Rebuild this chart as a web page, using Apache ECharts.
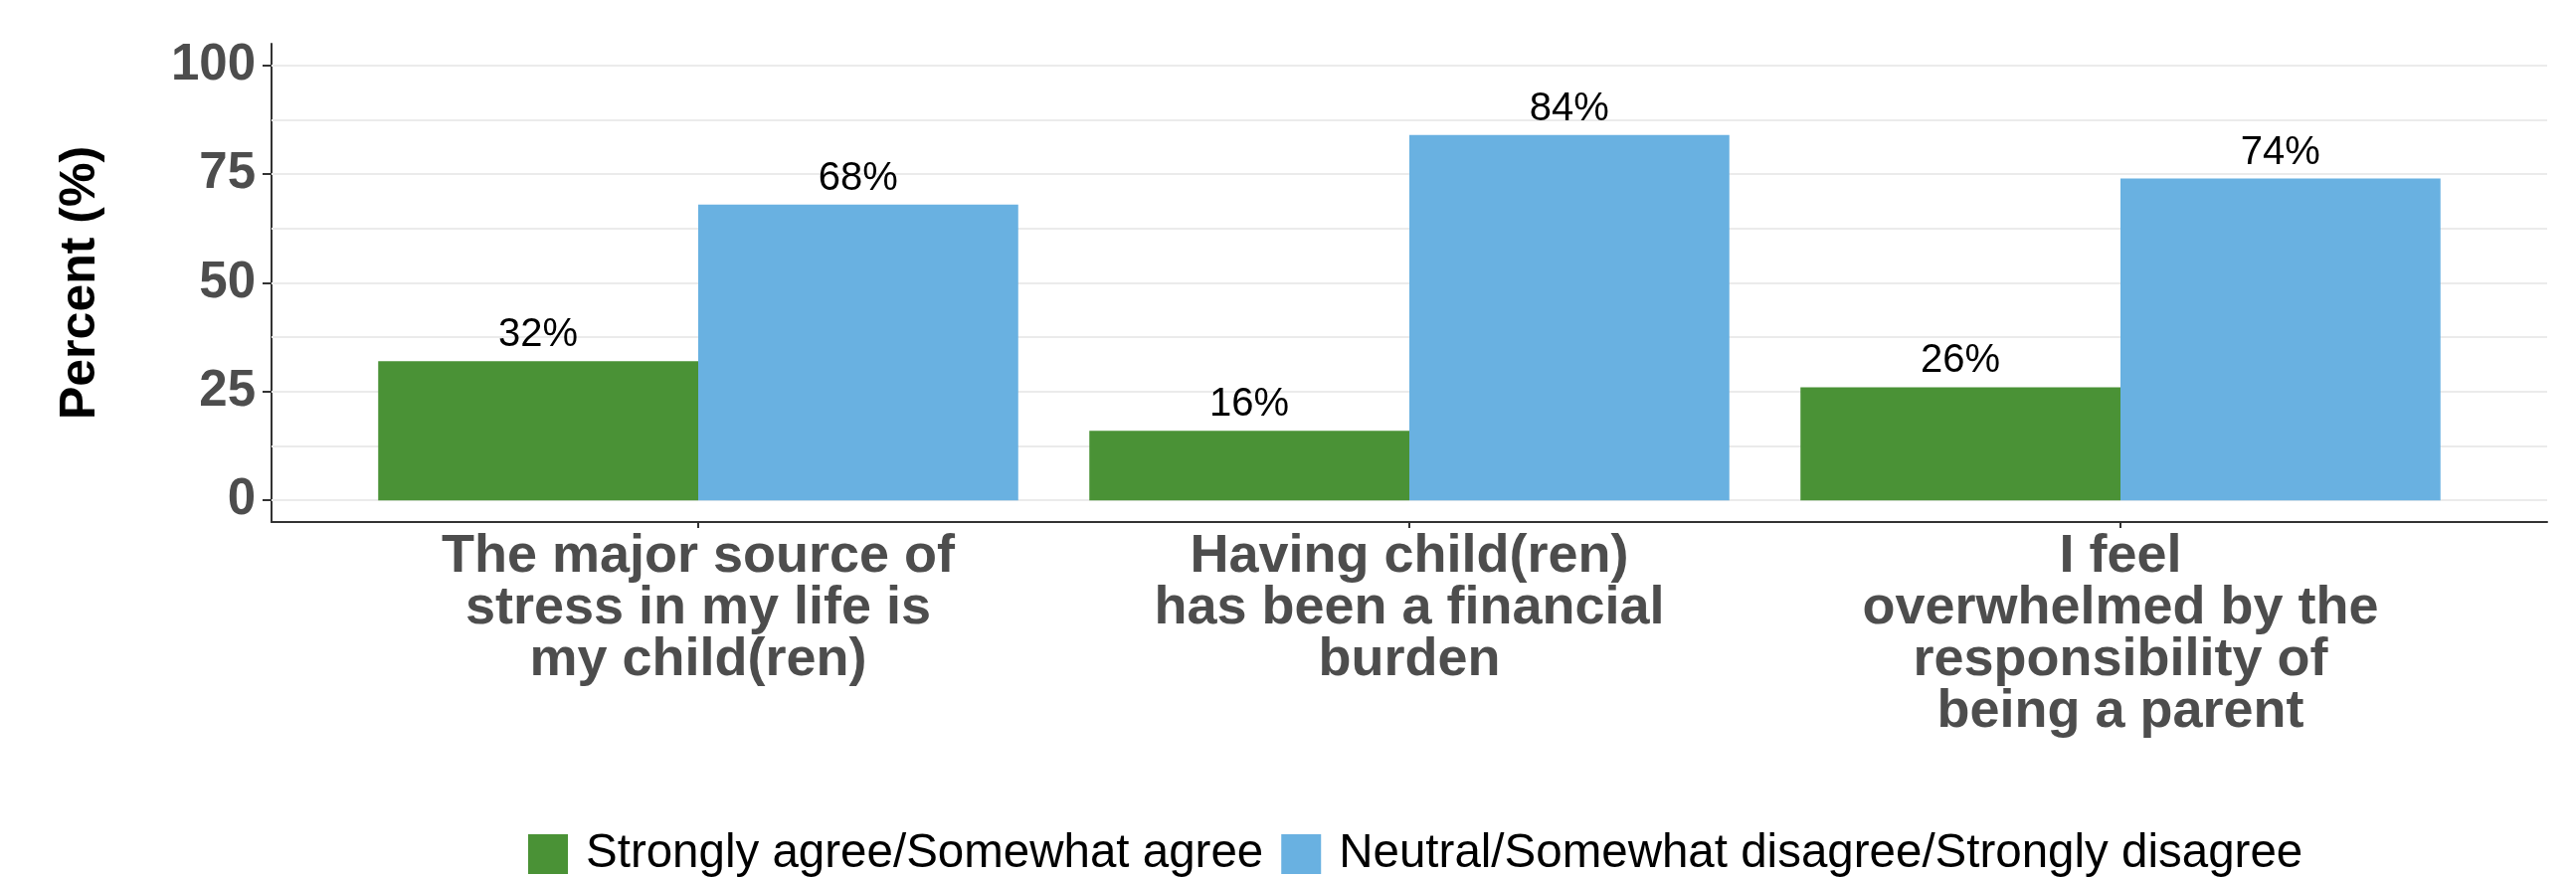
<!DOCTYPE html>
<html>
<head>
<meta charset="utf-8">
<script src="https://cdn.jsdelivr.net/npm/echarts@6/dist/echarts.min.js"></script>
<style>
html, body { margin: 0; padding: 0; background: #ffffff; }
#chart { width: 2590px; height: 882px; }
</style>
</head>
<body>
<div id="chart"></div>
<script>
// ---- data ----
const categories = [
  'The major source of\nstress in my life is\nmy child(ren)',
  'Having child(ren)\nhas been a financial\nburden',
  'I feel\noverwhelmed by the\nresponsibility of\nbeing a parent'
];
const seriesNames = ['Strongly agree/Somewhat agree', 'Neutral/Somewhat disagree/Strongly disagree'];
const agreeValues = [32, 16, 26];
const disagreeValues = [68, 84, 74];
const yTickValues = [0, 25, 50, 75, 100];
const gridValues = [0, 12.5, 25, 37.5, 50, 62.5, 75, 87.5, 100];
const categoryPositions = [1, 2, 3];

const FONT = '"Liberation Sans", Arial, sans-serif';
const GREEN = '#4a9236';
const BLUE = '#69b1e1';

const toPairs = (vals) => vals.map((v, i) => [categoryPositions[i], v]);

const chart = echarts.init(document.getElementById('chart'), null, { renderer: 'canvas' });

const barLabel = {
  show: true,
  position: 'top',
  distance: 6,
  color: '#000000',
  fontFamily: FONT,
  fontSize: 40,
  formatter: (p) => p.value[1] + '%'
};

chart.setOption({
  backgroundColor: '#ffffff',
  animation: false,
  textStyle: { fontFamily: FONT },
  grid: { left: 273, right: 29, top: 44, bottom: 357, containLabel: false },
  legend: {
    data: seriesNames,
    left: 526,
    top: 830,
    icon: 'rect',
    itemWidth: 40,
    itemHeight: 40,
    itemGap: 18,
    textStyle: { fontFamily: FONT, fontSize: 47.5, color: '#000000', padding: [0, 0, 0, 13] }
  },
  xAxis: {
    type: 'value',
    min: 0.4,
    max: 3.6,
    splitLine: { show: false },
    axisLine: { show: true, onZero: false, lineStyle: { color: '#333333', width: 2 } },
    axisTick: { show: true, customValues: categoryPositions, length: 6, lineStyle: { color: '#333333', width: 2 } },
    axisLabel: {
      customValues: categoryPositions,
      formatter: (v) => categories[Math.round(v) - 1] || '',
      margin: 9,
      fontFamily: FONT,
      fontSize: 54,
      fontWeight: 'bold',
      lineHeight: 52,
      color: '#4d4d4d',
      align: 'center'
    }
  },
  yAxis: {
    type: 'value',
    min: -5,
    max: 105,
    name: 'Percent (%)',
    nameLocation: 'middle',
    nameGap: 167,
    nameTextStyle: { fontFamily: FONT, fontSize: 50, fontWeight: 'bold', color: '#000000' },
    splitLine: { show: false },
    axisLine: { show: true, onZero: false, lineStyle: { color: '#333333', width: 2 } },
    axisTick: { show: true, customValues: yTickValues, length: 9, lineStyle: { color: '#333333', width: 2 } },
    axisLabel: {
      customValues: yTickValues,
      margin: 16,
      fontFamily: FONT,
      fontSize: 51,
      fontWeight: 'bold',
      color: '#4d4d4d'
    }
  },
  series: [
    {
      name: 'grid',
      type: 'line',
      data: [],
      z: 1,
      silent: true,
      markLine: {
        silent: true,
        symbol: ['none', 'none'],
        label: { show: false },
        lineStyle: { color: '#ebebeb', width: 2, type: 'solid' },
        emphasis: { disabled: true },
        data: gridValues.map(v => ({ yAxis: v }))
      }
    },
    {
      name: seriesNames[0],
      type: 'bar',
      z: 10,
      data: toPairs(agreeValues),
      itemStyle: { color: GREEN },
      barGap: '0%',
      barCategoryGap: '10%',
      label: barLabel
    },
    {
      name: seriesNames[1],
      type: 'bar',
      z: 10,
      data: toPairs(disagreeValues),
      itemStyle: { color: BLUE },
      barGap: '0%',
      barCategoryGap: '10%',
      label: barLabel
    }
  ]
});
</script>
</body>
</html>
